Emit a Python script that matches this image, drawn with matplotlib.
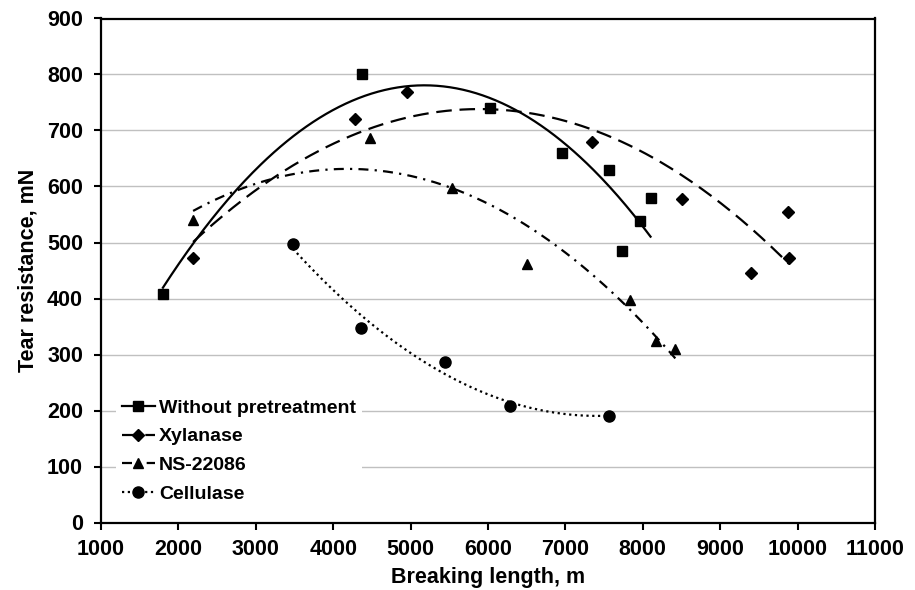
import numpy as np
import matplotlib
matplotlib.use("Agg")
import matplotlib.pyplot as plt

plt.rcParams['font.family'] = ['Liberation Sans', 'DejaVu Sans']

# Data (breaking length m, tear resistance mN)
wp_x = [1800, 4370, 6030, 6960, 7560, 8100, 7730, 7960]
wp_y = [408, 800, 740, 660, 629, 580, 484, 538]

xy_x = [2190, 4280, 4950, 7350, 8500, 9400, 9870, 9890]
xy_y = [472, 720, 769, 679, 577, 446, 554, 473]

ns_x = [2190, 4480, 5540, 6500, 7830, 8170, 8420]
ns_y = [540, 686, 598, 462, 398, 325, 310]

ce_x = [3480, 4360, 5450, 6290, 7560]
ce_y = [498, 347, 286, 208, 190]

labels = ["Without pretreatment", "Xylanase", "NS-22086", "Cellulase"]
x_ticks = list(range(1000, 11001, 1000))
y_ticks = list(range(0, 901, 100))

fig = plt.figure(figsize=(9.15, 5.9), dpi=100)
ax = fig.add_axes([101/915, 1-522.5/590, (875-101)/915, (522.5-18.5)/590])

series = [
    (wp_x, wp_y, 's', 7.3, '-'),
    (xy_x, xy_y, 'D', 6.3, (0, (7, 3.5))),
    (ns_x, ns_y, '^', 7.8, (0, (4.5, 2.8, 1, 2.8))),
    (ce_x, ce_y, 'o', 8, (0, (1, 1.6))),
]

for (xs, ys, mk, ms, ls), lab in zip(series, labels):
    xs = np.array(xs, float); ys = np.array(ys, float)
    c = np.polyfit(xs, ys, 2)
    xx = np.linspace(xs.min(), xs.max(), 300)
    ax.plot(xx, np.polyval(c, xx), color='black', lw=1.6, linestyle=ls, zorder=3)
    ax.plot(xs, ys, linestyle='none', marker=mk, ms=ms, color='black', zorder=4)
    ax.plot([], [], color='black', lw=1.6, linestyle=ls, marker=mk, ms=ms, label=lab)

ax.set_xlim(1000, 11000)
ax.set_ylim(0, 900)
ax.set_xticks(x_ticks)
ax.set_yticks(y_ticks)
ax.tick_params(direction='out', length=5, width=1.5, labelsize=15.5)
ax.tick_params(axis='x', pad=7)
ax.tick_params(axis='y', pad=8)
for lab in ax.get_xticklabels() + ax.get_yticklabels():
    lab.set_fontweight('bold')
for s in ax.spines.values():
    s.set_linewidth(1.6)
ax.yaxis.grid(True, color='#c0c0c0', lw=1)
ax.set_axisbelow(True)

ax.set_xlabel("Breaking length, m", fontsize=15.5, fontweight='bold', labelpad=5)
ax.set_ylabel("Tear resistance, mN", fontsize=15.5, fontweight='bold', labelpad=6)

leg = ax.legend(loc='lower left', bbox_to_anchor=(0.012, 0.016), frameon=True,
                handlelength=1.7, handletextpad=0.2, labelspacing=0.57,
                prop={'weight': 'bold', 'size': 14}, borderaxespad=0.3,
                borderpad=0.3)
leg.get_frame().set_edgecolor('none')
leg.get_frame().set_facecolor('white')
leg.get_frame().set_alpha(1)

fig.savefig("out.png", dpi=100)
